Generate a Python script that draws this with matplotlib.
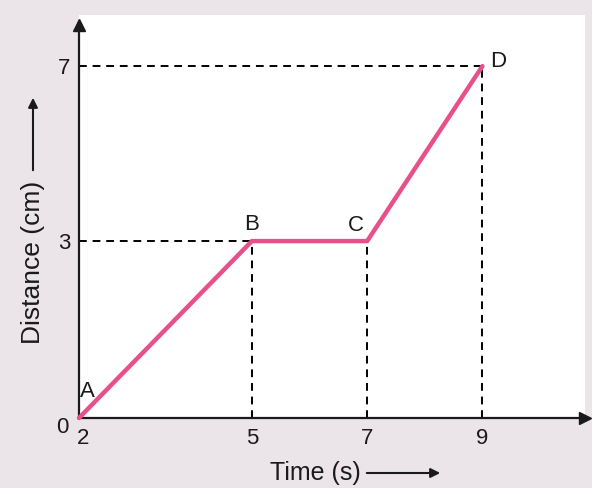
import matplotlib.pyplot as plt
import numpy as np
from matplotlib.patches import FancyArrowPatch
from matplotlib.transforms import ScaledTranslation

# points of the distance-time graph
labels = ['A', 'B', 'C', 'D']
time_s = [2, 5, 7, 9]
distance_cm = [0, 3, 3, 7]
xticks = [2, 5, 7, 9]
yticks = [0, 3, 7]

# the drawing is not to scale on y: 0-3 is stretched compared to 3-7
k = 43.75 / 59


def fwd(y):
    y = np.asarray(y, dtype=float)
    return np.where(y <= 3, y, 3 + (y - 3) * k)


def inv(t):
    t = np.asarray(t, dtype=float)
    return np.where(t <= 3, t, 3 + (t - 3) / k)


plt.rcParams['font.family'] = ['Liberation Sans', 'DejaVu Sans']
txt = '#1a1a1a'

fig = plt.figure(figsize=(5.92, 4.88), dpi=100, facecolor='#ebe5ea')
ax = fig.add_axes([79 / 592, 70 / 488, 506 / 592, 403 / 488])
ax.set_facecolor('white')
ax.set_yscale('function', functions=(fwd, inv))
ax.set_xlim(2, 10.78)
ax.set_ylim(0, 8.17)

# dashed guide lines
dash = dict(color='black', linestyle=(0, (4, 3)), linewidth=1.4, zorder=2)
for x, y in zip(time_s[1:], distance_cm[1:]):
    ax.plot([x, x], [0, y], **dash)
for x, y in [(time_s[1], distance_cm[1]), (time_s[3], distance_cm[3])]:
    ax.plot([2, x], [y, y], **dash)

ax.plot(time_s, distance_cm, color='#e8508c', linewidth=3.2, zorder=3,
        solid_capstyle='round', clip_on=False)

offsets = [(6, 19), (0, 12), (-8, 11), (11, 3)]
for lab, x, y, off in zip(labels, time_s, distance_cm, offsets):
    ax.annotate(lab, (x, y), xytext=off, textcoords='offset points',
                ha='center', va='center', fontsize=16, color=txt)

# axes with arrow heads
for s in ['top', 'right']:
    ax.spines[s].set_visible(False)
for s in ['left', 'bottom']:
    ax.spines[s].set_linewidth(1.6)
    ax.spines[s].set_color('#1a1a1a')
ax.spines['left'].set_bounds(0, 8.0)
ax.plot(1, 0, '>', color='#1a1a1a', markersize=9, transform=ax.transAxes, clip_on=False)
ax.plot(0, 0.975, '^', color='#1a1a1a', markersize=9, transform=ax.transAxes, clip_on=False)

ax.set_xticks(xticks)
ax.set_yticks(yticks)
ax.yaxis.set_minor_locator(plt.NullLocator())
ax.set_xticklabels([str(v) for v in xticks])
ax.set_yticklabels([str(v) for v in yticks])
ax.tick_params(length=0, labelsize=16, labelcolor=txt)
ax.tick_params(axis='x', pad=7)
ax.tick_params(axis='y', pad=6)

# the "0" and "2" at the origin sit a little away from their ticks
lab0 = ax.get_yticklabels()[0]
lab0.set_transform(lab0.get_transform() + ScaledTranslation(-0.02, -0.07, fig.dpi_scale_trans))
lab2 = ax.get_xticklabels()[0]
lab2.set_transform(lab2.get_transform() + ScaledTranslation(0.04, 0, fig.dpi_scale_trans))

# axis titles with their arrows
fig.text(315 / 592, 1 - 473 / 488, 'Time (s)', ha='center', va='center',
         fontsize=18, color=txt)
fig.text(33 / 592, 1 - 262 / 488, 'Distance (cm)', ha='center', va='center',
         rotation=90, fontsize=19, color=txt)
arr = dict(arrowstyle='-|>', color=txt, lw=1.5, mutation_scale=14)
fig.add_artist(FancyArrowPatch(
    (364 / 592, 1 - 473 / 488), (443 / 592, 1 - 473 / 488),
    transform=fig.transFigure, **arr))
fig.add_artist(FancyArrowPatch(
    (33 / 592, 1 - 173 / 488), (33 / 592, 1 - 95 / 488),
    transform=fig.transFigure, **arr))

fig.savefig('out.png', dpi=100, facecolor=fig.get_facecolor())
